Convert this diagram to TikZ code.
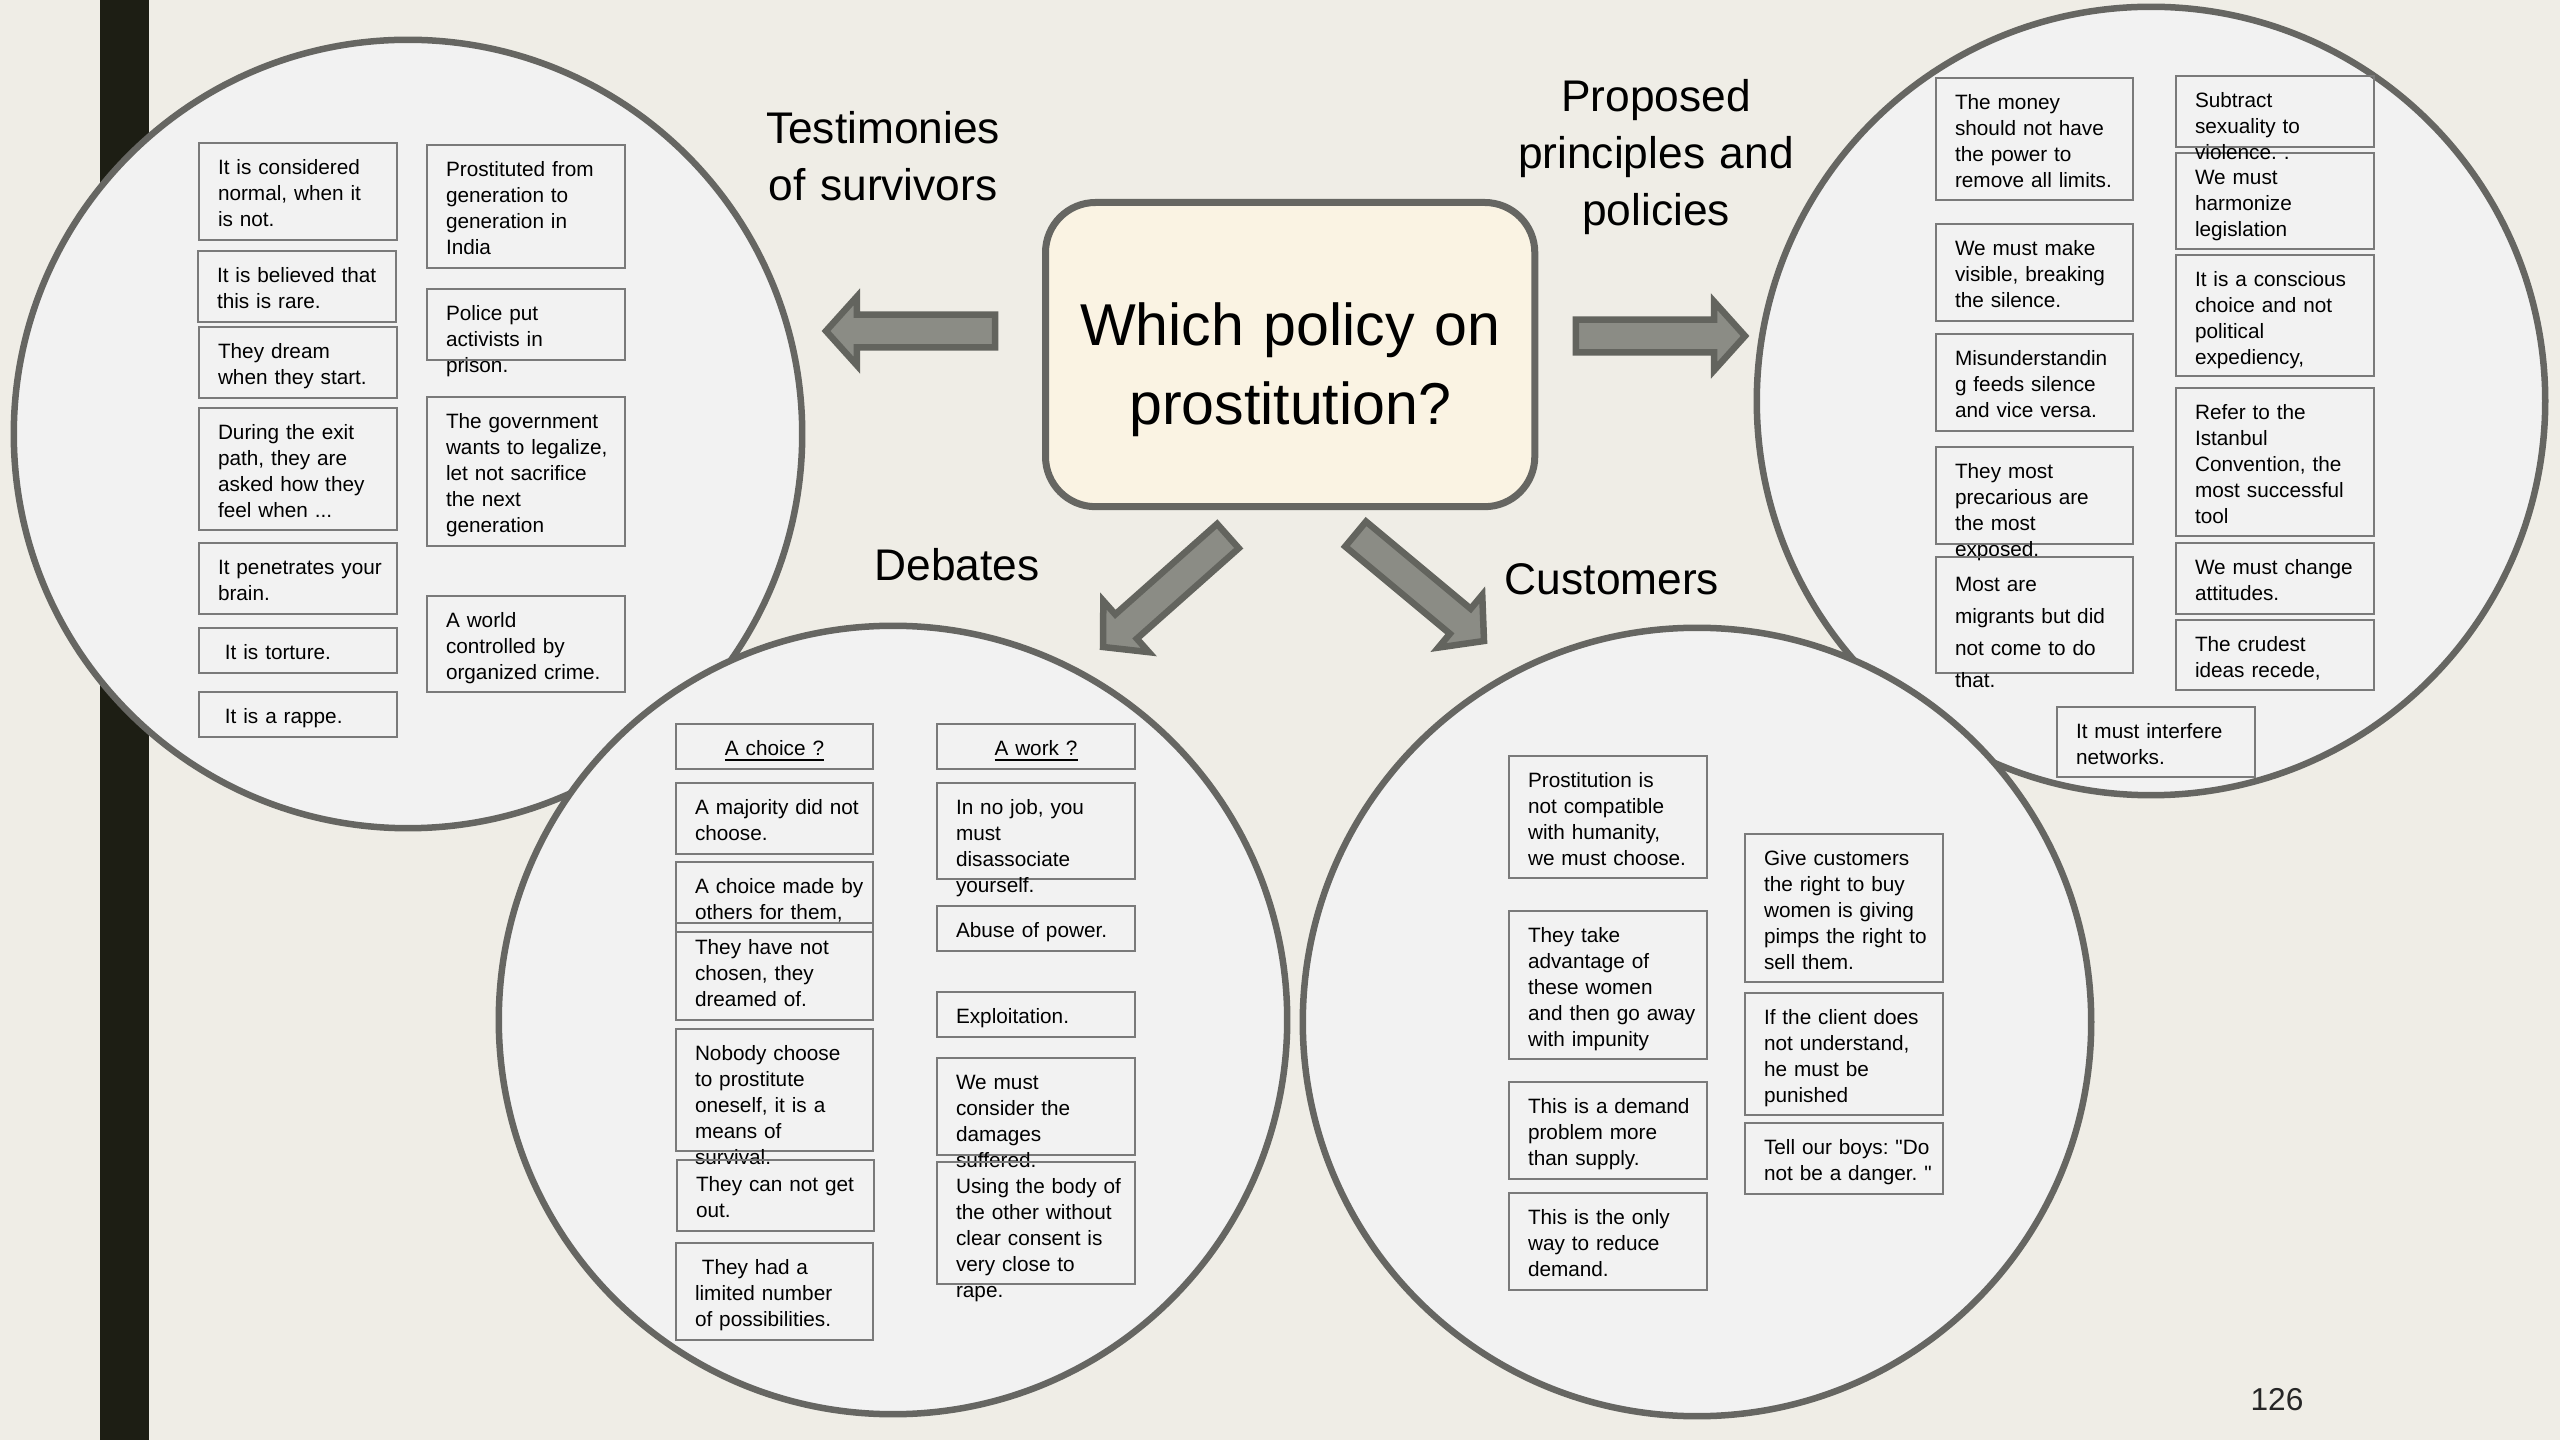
\documentclass[tikz,border=0pt]{standalone}
\usepackage{fontspec}
\setmainfont{Liberation Sans}[Ligatures=TeXOff]
\usetikzlibrary{shapes.arrows}
\definecolor{slidebg}{HTML}{EFEDE6}
\definecolor{sidebar}{HTML}{1D1E14}
\definecolor{circfill}{HTML}{F2F2F2}
\definecolor{circline}{HTML}{666662}
\definecolor{boxline}{HTML}{7A7A7A}
\definecolor{arrfill}{HTML}{8B8C85}
\definecolor{arrline}{HTML}{63645E}
\definecolor{qfill}{HTML}{FAF3E3}
\definecolor{pagenum}{HTML}{262626}

\begin{document}
\begin{tikzpicture}[x=0.01cm,y=-0.01cm,
   circ/.style={circle,draw=circline,fill=circfill,line width=0.065cm,minimum size=7.88cm,inner sep=0pt},
   tb/.style={draw=boxline,line width=0.02cm,anchor=north west,inner xsep=0.04cm,inner ysep=0pt,
              outer sep=0pt,text height=0.31cm,font=\fontsize{5.9}{7.4}\selectfont\frenchspacing},
   tl/.style 2 args={tb,align=left,text width=#1*0.01cm-0.08cm,text depth=#2*0.01cm-0.31cm,
              execute at begin node={\leftskip=0.15cm}},
   tc/.style 2 args={tb,align=center,text width=#1*0.01cm-0.08cm,text depth=#2*0.01cm-0.31cm},
   ttl/.style={font=\fontsize{12.6}{16.1}\selectfont,align=center,text width=4cm,anchor=base,inner sep=0pt},
   qbox/.style={draw=circline,fill=qfill,line width=0.07cm,rounded corners=0.5cm,inner sep=0pt,
              outer sep=0pt,align=center,anchor=north west,font=\fontsize{16.8}{22.5}\selectfont},
   bigarrow/.style={single arrow,draw=arrline,fill=arrfill,line width=0.065cm,minimum height=1.69cm,
              text height=0.13cm,text depth=0.13cm,single arrow head extend=0.18cm,
              single arrow tip angle=96,inner sep=0pt,outer sep=0pt,anchor=tip}]
  \useasboundingbox (0,0) rectangle (2560,1440);
  \fill[slidebg] (0,0) rectangle (2560,1440);
  \fill[sidebar] (100,0) rectangle (149,1440);

  \node[circ] (cT) at (408,434) {};
  \node[tl={198}{97}] (tes1) at (199,143) {It is considered\\normal, when it\\is not.};
  \node[tl={198}{71}] (tes2) at (198,251) {It is believed that\\this is rare.};
  \node[tl={198}{71}] (tes3) at (199,327) {They dream\\when they start.};
  \node[tl={198}{122}] (tes4) at (199,408) {During the exit\\path, they are\\asked how they\\feel when ...};
  \node[tl={198}{71}] (tes5) at (199,543) {It penetrates your\\brain.};
  \node[tl={198}{45}] (tes6) at (199,628) {~It is torture.};
  \node[tl={198}{45}] (tes7) at (199,692) {~It is a rappe.};
  \node[tl={198}{123}] (tes8) at (427,145) {Prostituted from\\generation to\\generation in\\India};
  \node[tl={198}{71}] (tes9) at (427,289) {Police put\\activists in\\prison.};
  \node[tl={198}{149}] (tes10) at (427,397) {The government\\wants to legalize,\\let not sacrifice\\the next\\generation};
  \node[tl={198}{96}] (tes11) at (427,596) {A world\\controlled by\\organized crime.};

  \node[circ] (cP) at (2151,401) {};
  \node[tl={197}{122}] (pro1) at (1936,78) {The money\\should not have\\the power to\\remove all limits.};
  \node[tl={197}{97}] (pro2) at (1936,224) {We must make\\visible, breaking\\the silence.};
  \node[tl={197}{97}] (pro3) at (1936,334) {Misunderstandin\\g feeds silence\\and vice versa.};
  \node[tl={197}{97}] (pro4) at (1936,447) {They most\\precarious are\\the most\\exposed.};
  \node[tl={197}{116},text height=0.34cm,text depth=0.82cm,font=\fontsize{5.9}{9.1}\selectfont] (pro5)
       at (1936,557) {Most are\\migrants but did\\not come to do\\that.};
  \node[tl={198}{96}] (pro7) at (2176,153) {We must\\harmonize\\legislation};
  \node[tl={198}{71}] (pro6) at (2176,76) {Subtract\\sexuality to\\violence. .};
  \node[tl={198}{121}] (pro8) at (2176,255) {It is a conscious\\choice and not\\political\\expediency,};
  \node[tl={198}{148}] (pro9) at (2176,388) {Refer to the\\Istanbul\\Convention, the\\most successful\\tool};
  \node[tl={198}{71}] (pro10) at (2176,543) {We must change\\attitudes.};
  \node[tl={198}{70}] (pro11) at (2176,620) {The crudest\\ideas recede,};
  \node[tl={198}{70}] (pro12) at (2057,707) {It must interfere\\networks.};

  \node[circ] (cD) at (893,1020) {};
  \node[tc={197}{45}] (deb1) at (676,724) {\underline{A choice ?}};
  \node[tl={197}{71}] (deb2) at (676,783) {A majority did not\\choose.};
  \node[tl={197}{97}] (deb4) at (676,923) {They have not\\chosen, they\\dreamed of.};
  \node[tl={197}{70}] (deb3) at (676,862) {A choice made by\\others for them,};
  \node[tl={197}{122}] (deb5) at (676,1029) {Nobody choose\\to prostitute\\oneself, it is a\\means of\\survival.};
  \node[tl={197}{71}] (deb6) at (677,1160) {They can not get\\out.};
  \node[tl={197}{97}] (deb7) at (676,1243) {~They had a\\limited number\\of possibilities.};
  \node[tc={198}{45}] (deb8) at (937,724) {\underline{A work ?}};
  \node[tl={198}{96}] (deb9) at (937,783) {In no job, you\\must\\disassociate\\yourself.};
  \node[tl={198}{45}] (deb10) at (937,906) {Abuse of power.};
  \node[tl={198}{45}] (deb11) at (937,992) {Exploitation.};
  \node[tl={198}{97}] (deb12) at (937,1058) {We must\\consider the\\damages\\suffered.};
  \node[tl={198}{122}] (deb13) at (937,1162) {Using the body of\\the other without\\clear consent is\\very close to\\rape.};

  \node[circ] (cC) at (1697,1022) {};
  \node[tl={198}{122}] (cus1) at (1509,756) {Prostitution is\\not compatible\\with humanity,\\we must choose.};
  \node[tl={198}{148}] (cus2) at (1509,911) {They take\\advantage of\\these women\\and then go away\\with impunity};
  \node[tl={198}{97}] (cus3) at (1509,1082) {This is a demand\\problem more\\than supply.};
  \node[tl={198}{97}] (cus4) at (1509,1193) {This is the only\\way to reduce\\demand.};
  \node[tl={198}{148}] (cus5) at (1745,834) {Give customers\\the right to buy\\women is giving\\pimps the right to\\sell them.};
  \node[tl={198}{122}] (cus6) at (1745,993) {If the client does\\not understand,\\he must be\\punished};
  \node[tl={198}{71}] (cus7) at (1745,1123) {Tell our boys: "Do\\not be a danger. "};

  \node[qbox,text width=4.89cm,text height=1.425cm,text depth=1.615cm] (q) at (1045.5,202.5)
       {Which policy on\\prostitution?};
  \node[ttl] (lT) at (883,144) {Testimonies\\of survivors};
  \node[ttl] (lP) at (1656,112) {Proposed\\principles and\\policies};
  \node[ttl] (lD) at (957,581) {Debates};
  \node[ttl] (lC) at (1612,595) {Customers};

  \node[bigarrow,rotate=180] (aT) at (826,331) {};
  \node[bigarrow] (aP) at (1745,336) {};
  \node[bigarrow,rotate=221.6,minimum height=1.67cm] (aD) at (1103,647) {};
  \node[bigarrow,rotate=-39.8,minimum height=1.67cm] (aC) at (1484,641) {};

  \node[font=\fontsize{9}{11}\selectfont,text=pagenum,anchor=base] (pg) at (2277,1410) {126};
\end{tikzpicture}
\end{document}
